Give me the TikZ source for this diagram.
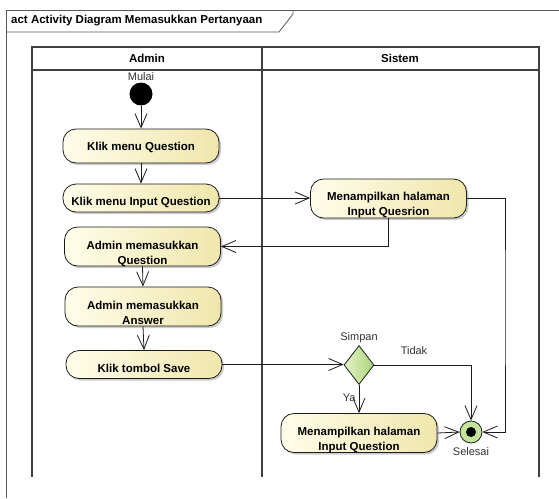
\documentclass[tikz,border=0pt]{standalone}
\usepackage{fontspec}
\setmainfont{Liberation Sans}
\usetikzlibrary{arrows.meta,shapes.geometric,shadows}

\definecolor{actL}{RGB}{255,253,234}
\definecolor{actR}{RGB}{240,230,172}
\definecolor{decL}{RGB}{226,242,196}
\definecolor{decR}{RGB}{172,212,124}
\definecolor{finG}{RGB}{196,228,156}
\definecolor{ink}{RGB}{28,28,28}

% text block placed with its first baseline shifted from the node centre
\newcommand\acttxt[2]{\raisebox{#1}[0pt][0pt]{\begin{tabular}[t]{@{}c@{}}#2\end{tabular}}}

\begin{document}
\begin{tikzpicture}[x=1pt,y=-1pt,
  actbox/.style={draw=ink, line width=0.8pt, rounded corners=13pt,
    minimum width=156pt, inner sep=0pt, left color=actL, right color=actR,
    drop shadow={shadow xshift=2pt, shadow yshift=-2pt, fill=black!40, opacity=0.5},
    font=\fontsize{11.5}{15}\selectfont\bfseries},
  decbox/.style={diamond, draw=ink, line width=0.8pt, inner sep=0pt,
    minimum width=30pt, minimum height=39pt, left color=decL, right color=decR},
  lbl/.style={font=\fontsize{11}{13}\selectfont, text=black!80, inner sep=0pt},
  flow/.style={draw=ink, line width=0.8pt,
    -{Straight Barb[length=14pt,width=12pt,line width=0.8pt]}},
  frameline/.style={draw=black!65, line width=0.8pt},
  laneline/.style={draw=black!75, line width=1.1pt}]

\useasboundingbox (0,0) rectangle (559,498);

% diagram frame with its name tab
\draw[frameline] (559,10) -- (6,10) -- (6,498);
\draw[frameline] (6,32) -- (279,32) -- (293,14) -- (293,10);
\node[anchor=west, inner sep=0pt, font=\fontsize{11.5}{13}\selectfont\bfseries]
  (title) at (11,21) {act Activity Diagram Memasukkan Pertanyaan};

% swimlanes
\draw[laneline] (32,477) -- (32,47) -- (539,47) -- (539,477);
\draw[laneline] (262,47) -- (262,477);
\draw[laneline] (32,70) -- (539,70);
\node[font=\fontsize{11.5}{13}\selectfont\bfseries] (laneA) at (147,58.5) {Admin};
\node[font=\fontsize{11.5}{13}\selectfont\bfseries] (laneS) at (400,58.5) {Sistem};

% start node
\node[circle, fill=black, minimum size=23pt, inner sep=0pt] (start) at (141,94) {};
\node[lbl] (mulai) at (141,77) {Mulai};

% Admin actions
\node[actbox, minimum height=34pt] (a1) at (141,146) {\acttxt{-4.6pt}{Klik menu Question}};
\node[actbox, minimum height=28pt] (a2) at (141,198) {\acttxt{-7.5pt}{Klik menu Input Question}};
\node[actbox, minimum height=39pt] (a3) at (142.5,246.5) {\acttxt{-2.6pt}{Admin memasukkan\\Question}};
\node[actbox, minimum height=39pt] (a4) at (143,306.5) {\acttxt{-2.6pt}{Admin memasukkan\\Answer}};
\node[actbox, minimum height=28pt] (a5) at (144,364.5) {\acttxt{-7.8pt}{Klik tombol Save}};

% Sistem actions
\node[actbox, minimum height=39pt] (a6) at (388.5,198.5) {\acttxt{-2.3pt}{Menampilkan halaman\\Input Quesrion}};
\node[actbox, minimum height=39pt] (a7) at (359,433) {\acttxt{-2.9pt}{Menampilkan halaman\\Input Question}};

% decision
\node[decbox] (dec) at (359,365) {};
\node[lbl] (simpan) at (359,338) {Simpan};

% final node
\node[circle, draw=ink, fill=finG, line width=0.8pt, minimum size=22pt, inner sep=0pt] (fin) at (471,432) {};
\node[circle, fill=black, minimum size=10pt, inner sep=0pt] (findot) at (fin.center) {};
\node[lbl] (selesai) at (471,452) {Selesai};

\coordinate (loop) at (505,300);

% control flows
\draw[flow] (start) -- (a1.north);
\draw[flow] (a1.south) -- (a2.north);
\draw[flow] (a2.east) -- (a2.east -| a6.west);
\draw[flow] (a6.south) |- (a3.east);
\draw[flow] (a3.south) -- (a4.north);
\draw[flow] (a4.south) -- (a5.north);
\draw[flow] (a5.east) -- (a5.east -| dec.west);
\draw[flow] (dec.south) -- node[lbl, pos=0.45, left=3pt] (ya) {Ya} (a7.north);
\draw[flow] (dec.east) -| (fin.north);
\node[lbl] (tidak) at (414,351) {Tidak};
\draw[flow] (a7.east) -- (fin.west);
\draw[flow] (a6.east) -| (loop) |- (fin.east);

\end{tikzpicture}
\end{document}
